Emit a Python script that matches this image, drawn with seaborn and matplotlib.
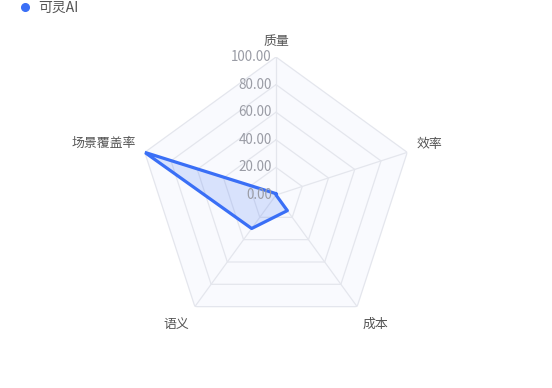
import numpy as np
import pandas as pd
import matplotlib
matplotlib.use("Agg")
import matplotlib.pyplot as plt
from matplotlib.lines import Line2D
import seaborn as sns

# ---- data ----
indicators = ["质量", "效率", "成本", "语义", "场景覆盖率"]
series_name = "可灵AI"
values = [1, 0, 14, 30, 100]
r_ticks = [0, 20, 40, 60, 80, 100]
r_tick_labels = ["0.00", "20.00", "40.00", "60.00", "80.00", "100.00"]

sns.set_style("white")
plt.rcParams["font.family"] = ["Noto Sans CJK SC", "DejaVu Sans"]

BLUE = "#3a6ff6"
GRID = "#e4e6ed"

W, H = 552, 388
fig = plt.figure(figsize=(W / 100, H / 100), dpi=100)
cx, cy, R = 276, 195, 138
ax = fig.add_axes([(cx - R) / W, (H - cy - R) / H, 2 * R / W, 2 * R / H], projection="polar")
ax.set_theta_offset(np.pi / 2)
ax.set_theta_direction(-1)
ax.set_ylim(0, 100)
ax.axis("off")

n = len(indicators)
angles = np.linspace(0, 2 * np.pi, n, endpoint=False)
ang_c = np.append(angles, 2 * np.pi)

# split areas and grid
ax.fill(ang_c, [100] * (n + 1), color="#f9fafe", zorder=0, linewidth=0)
for lv in r_ticks[1:]:
    ax.plot(ang_c, [lv] * (n + 1), color=GRID, linewidth=0.9, zorder=1)
for a in angles:
    ax.plot([a, a], [0, 100], color=GRID, linewidth=0.9, zorder=1)

# data
df = pd.DataFrame({"angle": ang_c, "value": values + [values[0]]})
ax.fill(df["angle"], df["value"], color=BLUE, alpha=0.17, zorder=3, linewidth=0)
sns.lineplot(data=df, x="angle", y="value", sort=False, ax=ax, color=BLUE,
             linewidth=2.3, zorder=4, legend=False)
ax.set_ylim(0, 100)
ax.set_xlabel("")
ax.set_ylabel("")
ax.axis("off")

# radial tick labels
for rv, lab in zip(r_ticks, r_tick_labels):
    ax.annotate(lab, xy=(0, rv), xytext=(-4, 0), textcoords="offset pixels",
                ha="right", va="center", fontsize=9.7, color="#9a9ca5", zorder=5)

# indicator labels
offsets = [(0, 16, "center"), (9, 8, "left"), (18, -18, "center"),
           (-19, -18, "center"), (-9, 9, "right")]
for a, name, (dx, dy, ha) in zip(angles, indicators, offsets):
    ax.annotate(name, xy=(a, 100), xytext=(dx, dy), textcoords="offset pixels",
                ha=ha, va="center", fontsize=9.3, color="#555555")

# legend
handle = Line2D([], [], marker="o", linestyle="none", color=BLUE, markersize=5.5)
fig.legend([handle], [series_name], loc="upper left", bbox_to_anchor=(18 / W, 1 - 1 / H),
           frameon=False, fontsize=10, handletextpad=0.43, borderaxespad=0.0,
           borderpad=0.0, handlelength=1.0, labelcolor="#555555")

fig.savefig("out.png", dpi=100)
